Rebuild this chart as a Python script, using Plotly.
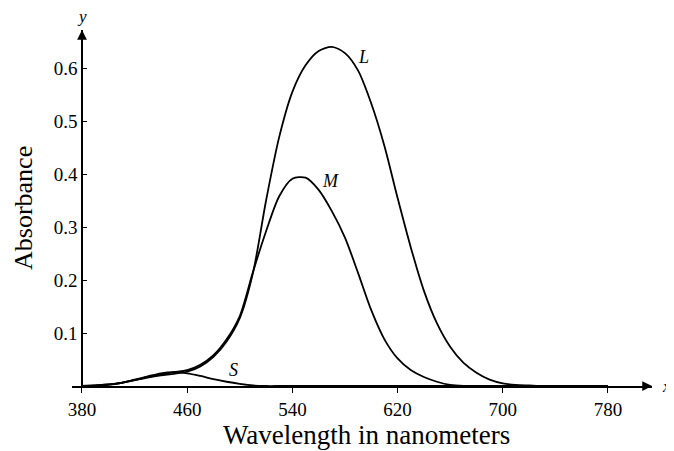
import plotly.graph_objects as go

wavelength = list(range(380, 790, 10))

L_abs = [0.0, 0.001, 0.003, 0.006, 0.011, 0.016, 0.020, 0.023, 0.027, 0.037,
         0.055, 0.084, 0.128, 0.213, 0.350, 0.470, 0.555, 0.605, 0.632, 0.640,
         0.628, 0.595, 0.533, 0.453, 0.355, 0.262, 0.180, 0.118, 0.074, 0.044,
         0.025, 0.012, 0.005, 0.002, 0.001, 0.0, 0.0, 0.0, 0.0, 0.0, 0.0]

M_abs = [0.0, 0.001, 0.003, 0.006, 0.011, 0.017, 0.022, 0.026, 0.030, 0.040,
         0.058, 0.088, 0.132, 0.215, 0.292, 0.358, 0.391, 0.393, 0.370, 0.330,
         0.280, 0.213, 0.143, 0.088, 0.052, 0.030, 0.017, 0.008, 0.002, 0.0,
         0.0, 0.0, 0.0, 0.0, 0.0, 0.0, 0.0, 0.0, 0.0, 0.0, 0.0]

S_abs = [0.0, 0.0, 0.002, 0.006, 0.012, 0.018, 0.024, 0.026, 0.024, 0.019,
         0.013, 0.008, 0.004, 0.001, 0.0, 0.0, 0.0, 0.0, 0.0, 0.0,
         0.0, 0.0, 0.0, 0.0, 0.0, 0.0, 0.0, 0.0, 0.0, 0.0,
         0.0, 0.0, 0.0, 0.0, 0.0, 0.0, 0.0, 0.0, 0.0, 0.0, 0.0]

x_ticks = [380, 460, 540, 620, 700, 780]
y_ticks = [0.1, 0.2, 0.3, 0.4, 0.5, 0.6]

curve_labels = [("L", 594, 0.62), ("M", 569, 0.387), ("S", 495, 0.030)]

FONT = "Liberation Serif"
X_RANGE = [372.4, 813.5]
Y_RANGE = [0.0, 0.6717]

fig = go.Figure()
for ys in (L_abs, M_abs, S_abs):
    fig.add_trace(go.Scatter(x=wavelength, y=ys, mode="lines",
                             line=dict(color="black", width=1.8, shape="spline", smoothing=0.8),
                             showlegend=False, hoverinfo="skip"))

for name, lx, ly in curve_labels:
    fig.add_annotation(x=lx, y=ly, text="<i>%s</i>" % name, showarrow=False,
                       xanchor="center", yanchor="middle",
                       font=dict(family=FONT, size=18, color="black"))

# axis arrowheads
fig.add_annotation(x=X_RANGE[1], y=0, ax=X_RANGE[1] - 6, ay=0, axref="x", ayref="y",
                   xref="x", yref="y", showarrow=True, arrowhead=2, arrowsize=1.3,
                   arrowwidth=1.5, arrowcolor="black", text="")
fig.add_annotation(x=380, y=Y_RANGE[1], ax=380, ay=Y_RANGE[1] - 0.01, axref="x", ayref="y",
                   xref="x", yref="y", showarrow=True, arrowhead=2, arrowsize=1.3,
                   arrowwidth=1.5, arrowcolor="black", text="")
fig.add_annotation(x=1.0, y=0, xref="paper", yref="y", xshift=14, text="<i>x</i>",
                   xanchor="center", yanchor="middle",
                   showarrow=False, font=dict(family=FONT, size=17, color="black"))
fig.add_annotation(x=380, y=1.0, xref="x", yref="paper", yshift=14, text="<i>y</i>",
                   xanchor="center", yanchor="middle",
                   showarrow=False, font=dict(family=FONT, size=17, color="black"))

# axis titles
fig.add_annotation(x=0.5086, y=-0.139, xref="paper", yref="paper", text="Wavelength in nanometers",
                   xanchor="center", yanchor="middle",
                   showarrow=False, font=dict(family=FONT, size=27, color="black"))
fig.add_annotation(x=-0.0845, y=0.5, xref="paper", yref="paper", text="Absorbance",
                   xanchor="center", yanchor="middle",
                   textangle=-90, showarrow=False, font=dict(family=FONT, size=26, color="black"))

fig.update_layout(
    width=674, height=451,
    margin=dict(l=64, r=30, t=22, b=73),
    plot_bgcolor="white", paper_bgcolor="white",
    xaxis=dict(range=X_RANGE, tickvals=x_ticks, ticktext=[str(v) for v in x_ticks],
               showgrid=False, zeroline=False, showline=True, linecolor="black", linewidth=1.5,
               ticks="outside", ticklen=5, tickwidth=1.2, tickcolor="black",
               tickfont=dict(family=FONT, size=19, color="black")),
    yaxis=dict(range=Y_RANGE, tickvals=y_ticks, ticktext=[str(v) for v in y_ticks],
               anchor="free", position=10 / 580, side="left",
               showgrid=False, zeroline=False, showline=True, linecolor="black", linewidth=1.5,
               ticks="inside", ticklen=4, tickwidth=1.2, tickcolor="black",
               tickfont=dict(family=FONT, size=19, color="black")),
)

fig.write_html("out.html")
